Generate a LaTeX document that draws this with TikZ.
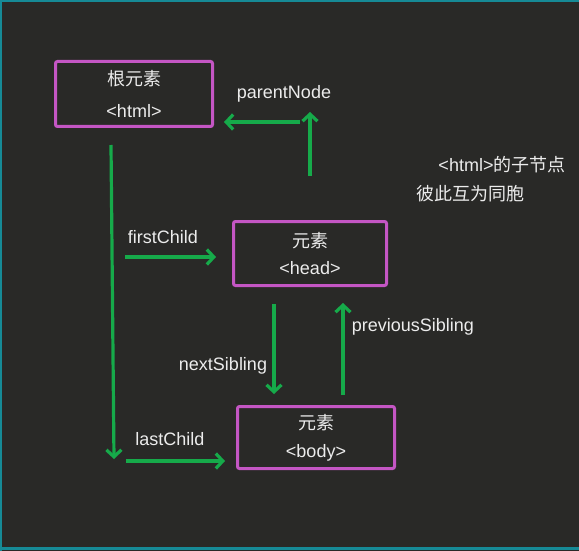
\documentclass[tikz,border=0pt]{standalone}
\usepackage{fontspec}
\setmainfont{Liberation Sans}
\newfontfamily\cjk{Noto Sans CJK SC}
\usetikzlibrary{arrows.meta}
\definecolor{bgdark}{RGB}{41,41,39}
\definecolor{frameteal}{RGB}{22,138,150}
\definecolor{boxpink}{RGB}{196,86,196}
\definecolor{linkgreen}{RGB}{22,170,74}
\definecolor{txtlight}{RGB}{236,236,236}

\begin{document}
\begin{tikzpicture}[x=1pt,y=-1pt,
    elem/.style={draw=boxpink,line width=3pt,rounded corners=2pt,text=txtlight,
      align=center,inner sep=0pt,font=\fontsize{18}{28}\selectfont},
    link/.style={-{Straight Barb[length=7pt,width=15pt]},draw=linkgreen,line width=3.2pt},
    lbl/.style={text=txtlight,inner sep=0pt,font=\fontsize{18}{20}\selectfont}]
    %background
    \useasboundingbox (0,0) rectangle (579,551);
    \fill[bgdark] (0,0) rectangle (579,551);
    \draw[frameteal,line width=2.5pt] (0,548.5) -- (579,548.5);
    \draw[frameteal,line width=2pt] (0,1) -- (579,1);
    \draw[frameteal,line width=2pt] (1,0) -- (1,551);
    %elements
    \node[elem,minimum width=157pt,minimum height=65pt] (root) at (134,94)
      {{\cjk 根元素}\\[4pt]<html>};
    \node[elem,minimum width=153pt,minimum height=64pt] (head) at (310,253.5)
      {{\cjk 元素}\\[-1pt]<head>};
    \node[elem,minimum width=157pt,minimum height=62pt] (body) at (316,437.5)
      {{\cjk 元素}\\<body>};
    %free ends
    \coordinate (lv top) at (111,145);
    \coordinate (lv end) at (114,459);
    \coordinate (fc start) at (125,257);
    \coordinate (lc start) at (126,461);
    \coordinate (ns) at (274,0);
    \coordinate (ps) at (343,0);
    \coordinate (pn start) at (310,176);
    \coordinate (pn end) at (310,112);
    \coordinate (pn turn) at (300,122);
    %links
    \draw[link] (lv top) -- (lv end);
    \draw[link,shorten >=16pt] (fc start) -- (fc start -| head.west);
    \draw[link,shorten >=11pt] (lc start) -- (lc start -| body.west);
    \draw[link,shorten <=17pt,shorten >=11pt] (head.south -| ns) -- (body.north -| ns);
    \draw[link,shorten <=10pt,shorten >=16pt] (body.north -| ps) -- (head.south -| ps);
    \draw[link] (pn start) -- (pn end);
    \draw[link,shorten >=10pt] (pn turn) -- (pn turn -| root.east);
    %labels
    \node[lbl] (first lbl) at (163,237) {firstChild};
    \node[lbl] (last lbl) at (170,439) {lastChild};
    \node[lbl] (next lbl) at (223,366) {nextSibling};
    \node[lbl] (prev lbl) at (413,327) {previousSibling};
    \node[lbl] (parent lbl) at (284,94) {parentNode};
    \node[lbl] (note a) at (502,165) {<html>{\cjk 的子节点}};
    \node[lbl] (note b) at (470,194) {\cjk 彼此互为同胞};
  \end{tikzpicture}
\end{document}
